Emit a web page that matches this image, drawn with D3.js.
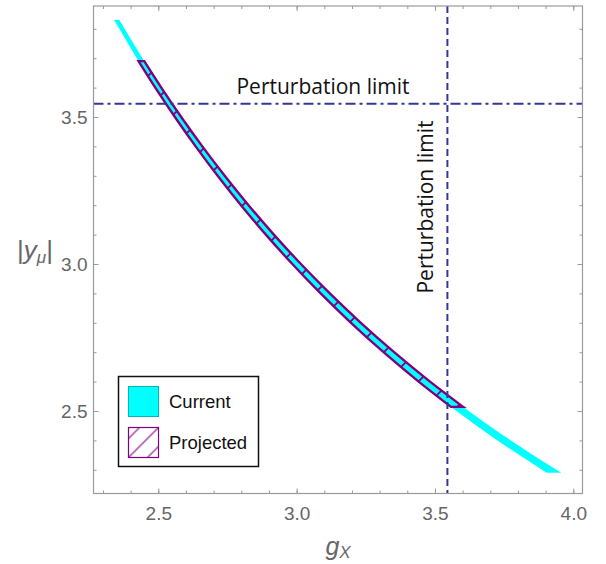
<!DOCTYPE html>
<html>
<head>
<meta charset="utf-8">
<script src="https://cdn.jsdelivr.net/npm/d3@7/dist/d3.min.js"></script>
<style>
  body { margin: 0; background: #fff; }
  svg { display: block; }
</style>
</head>
<body>
<svg id="chart" width="606" height="564"></svg>
<script>
// Allowed band in the (g_X, |y_mu|) plane, sampled at |y_mu| levels:
// each level gives the left and right g_X edge of the region.
const currentY     = [3.83, 3.70, 3.60, 3.50, 3.40, 3.30, 3.20, 3.10, 3.00, 2.90, 2.80, 2.70, 2.60, 2.50, 2.40, 2.29];
const currentLeft  = [2.3404, 2.4222, 2.4892, 2.5600, 2.6350, 2.7145, 2.7989, 2.8887, 2.9845, 3.0868, 3.1965, 3.3142, 3.4409, 3.5777, 3.7258, 3.9035];
const currentRight = [2.3594, 2.4426, 2.5108, 2.5828, 2.6592, 2.7401, 2.8261, 2.9177, 3.0155, 3.1200, 3.2321, 3.3524, 3.4821, 3.6223, 3.7742, 3.9567];

const projectedY     = [3.69, 3.60, 3.50, 3.40, 3.30, 3.20, 3.10, 3.00, 2.90, 2.80, 2.70, 2.60, 2.514];
const projectedLeft  = [2.4288, 2.4892, 2.5600, 2.6350, 2.7145, 2.7989, 2.8887, 2.9845, 3.0868, 3.1965, 3.3142, 3.4409, 3.5579];
const projectedRight = [2.4492, 2.5108, 2.5828, 2.6592, 2.7401, 2.8261, 2.9177, 3.0155, 3.1200, 3.2321, 3.3524, 3.4821, 3.6021];

// perturbativity bound sqrt(4*pi), applied to both couplings
const perturbLimit = 3.545;
const limitLabel = "Perturbation limit";

const xTicks = [2.5, 3.0, 3.5, 4.0];
const yTicks = [2.5, 3.0, 3.5];
const legendLabels = ["Current", "Projected"];

// ---------------------------------------------------------------
const plot = { left: 93.5, right: 582.5, top: 6, bottom: 493.5 };

const x = d3.scaleLinear().domain([2.2658, 4.0333]).range([plot.left, plot.right]);
const y = d3.scaleLinear().domain([2.2194, 3.8776]).range([plot.bottom, plot.top]);

const svg = d3.select("#chart");
const defs = svg.append("defs");

const PURPLE = "#800080";
const CYAN = "#00ffff";
const LINE = "#35359a";
const FRAME = "#9a9a9a";
const TICKTEXT = "#666666";

// hatch used inside the projected band
defs.append("pattern")
  .attr("id", "hatchBand")
  .attr("patternUnits", "userSpaceOnUse")
  .attr("width", 32).attr("height", 32)
  .append("path")
  .attr("d", "M-8,8 L8,-8 M0,32 L32,0 M24,40 L40,24")
  .attr("stroke", PURPLE).attr("stroke-width", 1.8).attr("fill", "none");

// finer hatch for the legend swatch
defs.append("pattern")
  .attr("id", "hatchLegend")
  .attr("patternUnits", "userSpaceOnUse")
  .attr("patternTransform", "translate(128.5,457.5)")
  .attr("width", 19).attr("height", 19)
  .append("path")
  .attr("d", "M-5,5 L5,-5 M0,19 L19,0 M14,24 L24,14")
  .attr("stroke", PURPLE).attr("stroke-width", 1.1).attr("fill", "none");

defs.append("clipPath").attr("id", "plotClip")
  .append("rect")
  .attr("x", plot.left).attr("y", plot.top)
  .attr("width", plot.right - plot.left).attr("height", plot.bottom - plot.top);

const toRows = (ys, ls, rs) => ys.map((v, i) => ({ y: v, l: ls[i], r: rs[i] }));
const currentRows = toRows(currentY, currentLeft, currentRight);
const projectedRows = toRows(projectedY, projectedLeft, projectedRight);

const band = d3.area()
  .y(d => y(d.y))
  .x0(d => x(d.l))
  .x1(d => x(d.r))
  .curve(d3.curveMonotoneY);

const layer = svg.append("g").attr("clip-path", "url(#plotClip)");

layer.append("path")
  .datum(currentRows)
  .attr("d", band)
  .attr("fill", CYAN)
  .attr("stroke", "none");

layer.append("path")
  .datum(projectedRows)
  .attr("d", band)
  .attr("fill", "url(#hatchBand)")
  .attr("stroke", PURPLE)
  .attr("stroke-width", 2.4)
  .attr("stroke-linejoin", "miter");

// perturbativity limits
layer.append("line")
  .attr("x1", plot.left).attr("x2", plot.right)
  .attr("y1", y(perturbLimit)).attr("y2", y(perturbLimit))
  .attr("stroke", LINE).attr("stroke-width", 2)
  .attr("stroke-dasharray", "10,4,3,4");

layer.append("line")
  .attr("x1", x(perturbLimit)).attr("x2", x(perturbLimit))
  .attr("y1", plot.top).attr("y2", plot.bottom)
  .attr("stroke", LINE).attr("stroke-width", 2)
  .attr("stroke-dasharray", "7,4");

svg.append("text")
  .attr("x", 323).attr("y", 94)
  .attr("text-anchor", "middle")
  .attr("font-family", "'Open Sans', sans-serif")
  .attr("font-size", 21)
  .attr("fill", "#111")
  .text(limitLabel);

svg.append("text")
  .attr("transform", `translate(433,207) rotate(-90)`)
  .attr("text-anchor", "middle")
  .attr("font-family", "'Open Sans', sans-serif")
  .attr("font-size", 21)
  .attr("fill", "#111")
  .text(limitLabel);

// ---------------- frame and ticks ----------------
const xMinor = d3.range(23, 41).map(v => v / 10);
const yMinor = d3.range(23, 39).map(v => v / 10);
const fmt = d3.format(".1f");

function styleAxis(g) {
  g.select(".domain").remove();
  g.selectAll(".tick line").attr("stroke", FRAME).attr("stroke-width", 1);
  g.selectAll(".tick text")
    .attr("fill", TICKTEXT)
    .attr("font-family", "'Liberation Sans', Arial, sans-serif")
    .attr("font-size", 19);
}

// bottom
svg.append("g").attr("transform", `translate(0,${plot.bottom})`)
  .call(d3.axisBottom(x).tickValues(xMinor).tickFormat("").tickSize(-3))
  .call(styleAxis);
svg.append("g").attr("transform", `translate(0,${plot.bottom})`)
  .call(d3.axisBottom(x).tickValues(xTicks).tickFormat(fmt).tickSize(-5).tickPadding(13))
  .call(styleAxis);
// top
svg.append("g").attr("transform", `translate(0,${plot.top})`)
  .call(d3.axisTop(x).tickValues(xMinor).tickFormat("").tickSize(-3))
  .call(styleAxis);
svg.append("g").attr("transform", `translate(0,${plot.top})`)
  .call(d3.axisTop(x).tickValues(xTicks).tickFormat("").tickSize(-5))
  .call(styleAxis);
// left
svg.append("g").attr("transform", `translate(${plot.left},0)`)
  .call(d3.axisLeft(y).tickValues(yMinor).tickFormat("").tickSize(-3))
  .call(styleAxis);
svg.append("g").attr("transform", `translate(${plot.left},0)`)
  .call(d3.axisLeft(y).tickValues(yTicks).tickFormat(fmt).tickSize(-5).tickPadding(6))
  .call(styleAxis);
// right
svg.append("g").attr("transform", `translate(${plot.right},0)`)
  .call(d3.axisRight(y).tickValues(yMinor).tickFormat("").tickSize(-3))
  .call(styleAxis);
svg.append("g").attr("transform", `translate(${plot.right},0)`)
  .call(d3.axisRight(y).tickValues(yTicks).tickFormat("").tickSize(-5))
  .call(styleAxis);

svg.append("rect")
  .attr("x", plot.left).attr("y", plot.top)
  .attr("width", plot.right - plot.left).attr("height", plot.bottom - plot.top)
  .attr("fill", "none").attr("stroke", FRAME).attr("stroke-width", 1.2);

// axis titles
const xTitle = svg.append("text")
  .attr("x", (plot.left + plot.right) / 2).attr("y", 555)
  .attr("text-anchor", "middle")
  .attr("font-family", "'Liberation Sans', Arial, sans-serif")
  .attr("font-size", 25)
  .attr("fill", "#666");
xTitle.append("tspan").attr("font-style", "italic").text("g");
xTitle.append("tspan").attr("font-style", "italic").attr("font-size", 17).attr("dy", 3).text("X");

const yTitle = svg.append("text")
  .attr("x", 35).attr("y", 259)
  .attr("text-anchor", "middle")
  .attr("font-family", "'Liberation Sans', Arial, sans-serif")
  .attr("font-size", 26)
  .attr("fill", "#666");
yTitle.append("tspan").text("|");
yTitle.append("tspan").attr("font-style", "italic").text("y");
yTitle.append("tspan").attr("font-style", "italic").attr("font-size", 17).attr("dy", 4).text("μ");
yTitle.append("tspan").attr("dy", -4).text("|");

// ---------------- legend ----------------
const legend = svg.append("g");
legend.append("rect")
  .attr("x", 118.5).attr("y", 376.5).attr("width", 140).attr("height", 90)
  .attr("fill", "#fff").attr("stroke", "#111").attr("stroke-width", 1.5);

const swatches = [
  { fill: CYAN, stroke: "#00b8b8", sw: 1 },
  { fill: "url(#hatchLegend)", stroke: PURPLE, sw: 1.2 }
];
legendLabels.forEach((lab, i) => {
  const top = 386.5 + i * 41;
  legend.append("rect")
    .attr("x", 128.5).attr("y", top).attr("width", 30).attr("height", 30)
    .attr("fill", swatches[i].fill).attr("stroke", swatches[i].stroke)
    .attr("stroke-width", swatches[i].sw);
  legend.append("text")
    .attr("x", 169).attr("y", top + 21.5)
    .attr("font-family", "'Liberation Sans', Arial, sans-serif")
    .attr("font-size", 18.5)
    .attr("fill", "#111")
    .text(lab);
});
</script>
</body>
</html>
